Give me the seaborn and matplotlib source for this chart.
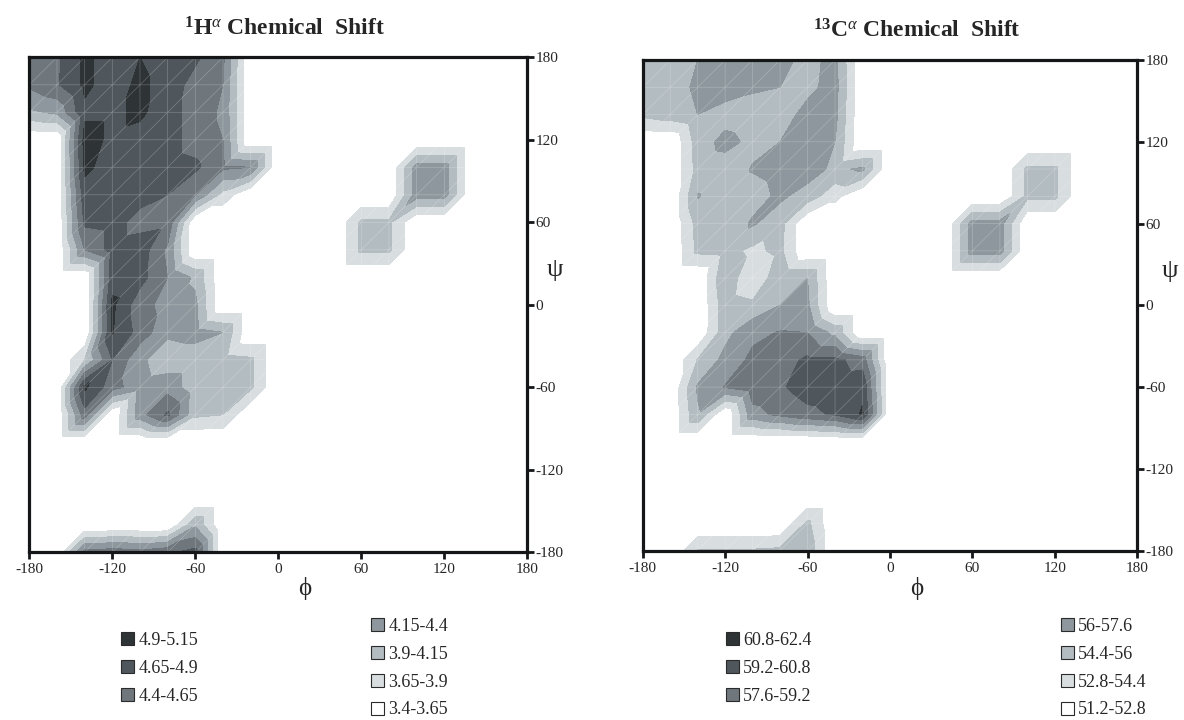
"""Mean H-alpha and C-alpha chemical shift over the phi/psi plane.

Two filled-contour maps on a 20 degree grid, drawn side by side with a
two-column band legend under each. Writes out.png (1184x720).
"""

import matplotlib.pyplot as plt
import matplotlib.tri as mtri
import numpy as np
import seaborn as sns
from matplotlib.patches import Patch

sns.set_theme(style="white")
plt.rcParams["font.family"] = ["Liberation Serif", "DejaVu Serif"]
plt.rcParams["mathtext.fontset"] = "custom"
plt.rcParams["mathtext.rm"] = "Liberation Serif"
plt.rcParams["mathtext.it"] = "Liberation Serif:italic"
plt.rcParams["mathtext.bf"] = "Liberation Serif:bold"
plt.rcParams["axes.unicode_minus"] = False

W, H = 1184, 720

# grid nodes (degrees)
PHI = [-180, -160, -140, -120, -100, -80, -60, -40, -20, 0,
       20, 40, 60, 80, 100, 120, 140, 160, 180]
PSI = [180, 160, 140, 120, 100, 80, 60, 40, 20, 0,
       -20, -40, -60, -80, -100, -120, -140, -160, -180]

# 1H-alpha shift (ppm), rows = PSI (top to bottom), cols = PHI
HA_SHIFT = [
    [4.45, 4.60, 4.95, 4.80, 4.90, 4.80, 4.70, 4.45, 3.4, 3.4, 3.4, 3.4, 3.4, 3.4, 3.4, 3.4, 3.4, 3.4, 3.4],
    [4.45, 4.62, 4.95, 4.80, 4.95, 4.80, 4.55, 4.40, 3.4, 3.4, 3.4, 3.4, 3.4, 3.4, 3.4, 3.4, 3.4, 3.4, 3.4],
    [4.10, 4.20, 4.85, 4.85, 4.95, 4.75, 4.55, 4.35, 3.4, 3.4, 3.4, 3.4, 3.4, 3.4, 3.4, 3.4, 3.4, 3.4, 3.4],
    [3.4, 3.4, 5.00, 4.85, 4.80, 4.75, 4.55, 4.40, 3.4, 3.4, 3.4, 3.4, 3.4, 3.4, 3.4, 3.4, 3.4, 3.4, 3.4],
    [3.4, 3.4, 4.95, 4.80, 4.80, 4.75, 4.70, 4.45, 4.40, 3.4, 3.4, 3.4, 3.4, 3.4, 4.27, 4.27, 3.4, 3.4, 3.4],
    [3.4, 3.4, 4.80, 4.80, 4.75, 4.65, 4.40, 3.80, 3.4, 3.4, 3.4, 3.4, 3.4, 3.4, 4.27, 4.27, 3.4, 3.4, 3.4],
    [3.4, 3.4, 4.70, 4.75, 4.55, 4.60, 3.4, 3.4, 3.4, 3.4, 3.4, 3.4, 3.95, 3.95, 3.4, 3.4, 3.4, 3.4, 3.4],
    [3.4, 3.4, 4.40, 4.75, 4.80, 4.35, 3.4, 3.4, 3.4, 3.4, 3.4, 3.4, 3.95, 3.95, 3.4, 3.4, 3.4, 3.4, 3.4],
    [3.4, 3.4, 3.4, 4.80, 4.75, 4.40, 4.10, 3.4, 3.4, 3.4, 3.4, 3.4, 3.4, 3.4, 3.4, 3.4, 3.4, 3.4, 3.4],
    [3.4, 3.4, 3.4, 4.95, 4.50, 4.30, 4.20, 3.4, 3.4, 3.4, 3.4, 3.4, 3.4, 3.4, 3.4, 3.4, 3.4, 3.4, 3.4],
    [3.4, 3.4, 3.4, 4.92, 4.55, 4.20, 4.25, 4.15, 3.4, 3.4, 3.4, 3.4, 3.4, 3.4, 3.4, 3.4, 3.4, 3.4, 3.4],
    [3.4, 3.4, 3.90, 4.65, 4.20, 4.00, 4.00, 4.00, 3.95, 3.4, 3.4, 3.4, 3.4, 3.4, 3.4, 3.4, 3.4, 3.4, 3.4],
    [3.4, 3.4, 4.95, 4.50, 4.25, 4.30, 4.00, 4.00, 3.95, 3.4, 3.4, 3.4, 3.4, 3.4, 3.4, 3.4, 3.4, 3.4, 3.4],
    [3.4, 3.4, 4.55, 3.4, 4.30, 4.70, 3.95, 3.90, 3.4, 3.4, 3.4, 3.4, 3.4, 3.4, 3.4, 3.4, 3.4, 3.4, 3.4],
    [3.4, 3.4, 3.4, 3.4, 3.4, 3.4, 3.4, 3.4, 3.4, 3.4, 3.4, 3.4, 3.4, 3.4, 3.4, 3.4, 3.4, 3.4, 3.4],
    [3.4, 3.4, 3.4, 3.4, 3.4, 3.4, 3.4, 3.4, 3.4, 3.4, 3.4, 3.4, 3.4, 3.4, 3.4, 3.4, 3.4, 3.4, 3.4],
    [3.4, 3.4, 3.4, 3.4, 3.4, 3.4, 3.4, 3.4, 3.4, 3.4, 3.4, 3.4, 3.4, 3.4, 3.4, 3.4, 3.4, 3.4, 3.4],
    [3.4, 3.4, 3.4, 3.4, 3.4, 3.4, 4.10, 3.4, 3.4, 3.4, 3.4, 3.4, 3.4, 3.4, 3.4, 3.4, 3.4, 3.4, 3.4],
    [3.4, 3.4, 4.50, 4.55, 4.50, 4.60, 4.75, 3.4, 3.4, 3.4, 3.4, 3.4, 3.4, 3.4, 3.4, 3.4, 3.4, 3.4, 3.4],
]

# 13C-alpha shift (ppm), same layout
CA_SHIFT = [
    [55.2, 55.5, 56.0, 57.0, 56.8, 56.5, 55.5, 56.5, 51.2, 51.2, 51.2, 51.2, 51.2, 51.2, 51.2, 51.2, 51.2, 51.2, 51.2],
    [55.3, 55.5, 56.2, 56.8, 56.3, 56.0, 55.6, 56.6, 51.2, 51.2, 51.2, 51.2, 51.2, 51.2, 51.2, 51.2, 51.2, 51.2, 51.2],
    [54.8, 55.3, 56.0, 55.3, 55.0, 55.3, 56.5, 56.5, 51.2, 51.2, 51.2, 51.2, 51.2, 51.2, 51.2, 51.2, 51.2, 51.2, 51.2],
    [51.2, 51.2, 55.2, 56.5, 55.6, 56.0, 56.8, 56.0, 51.2, 51.2, 51.2, 51.2, 51.2, 51.2, 51.2, 51.2, 51.2, 51.2, 51.2],
    [51.2, 51.2, 55.0, 55.2, 56.1, 56.5, 56.8, 55.6, 56.3, 51.2, 51.2, 51.2, 51.2, 51.2, 54.8, 54.8, 51.2, 51.2, 51.2],
    [51.2, 51.2, 56.1, 55.2, 55.4, 56.3, 55.3, 53.3, 51.2, 51.2, 51.2, 51.2, 51.2, 51.2, 54.8, 54.8, 51.2, 51.2, 51.2],
    [51.2, 51.2, 55.0, 55.0, 56.2, 55.0, 51.2, 51.2, 51.2, 51.2, 51.2, 51.2, 56.7, 56.7, 51.2, 51.2, 51.2, 51.2, 51.2],
    [51.2, 51.2, 54.8, 55.0, 54.0, 54.8, 51.2, 51.2, 51.2, 51.2, 51.2, 51.2, 56.7, 56.7, 51.2, 51.2, 51.2, 51.2, 51.2],
    [51.2, 51.2, 51.2, 55.8, 52.7, 55.8, 56.0, 51.2, 51.2, 51.2, 51.2, 51.2, 51.2, 51.2, 51.2, 51.2, 51.2, 51.2, 51.2],
    [51.2, 51.2, 51.2, 55.4, 54.8, 56.0, 56.3, 51.2, 51.2, 51.2, 51.2, 51.2, 51.2, 51.2, 51.2, 51.2, 51.2, 51.2, 51.2],
    [51.2, 51.2, 51.2, 55.5, 57.2, 57.7, 57.6, 55.5, 51.2, 51.2, 51.2, 51.2, 51.2, 51.2, 51.2, 51.2, 51.2, 51.2, 51.2],
    [51.2, 51.2, 54.5, 56.5, 58.0, 58.5, 59.5, 59.6, 58.5, 51.2, 51.2, 51.2, 51.2, 51.2, 51.2, 51.2, 51.2, 51.2, 51.2],
    [51.2, 51.2, 56.2, 57.7, 58.6, 59.0, 59.9, 60.1, 60.4, 51.2, 51.2, 51.2, 51.2, 51.2, 51.2, 51.2, 51.2, 51.2, 51.2],
    [51.2, 51.2, 55.8, 51.2, 57.0, 58.0, 58.8, 59.4, 61.0, 51.2, 51.2, 51.2, 51.2, 51.2, 51.2, 51.2, 51.2, 51.2, 51.2],
    [51.2, 51.2, 51.2, 51.2, 51.2, 51.2, 51.2, 51.2, 51.2, 51.2, 51.2, 51.2, 51.2, 51.2, 51.2, 51.2, 51.2, 51.2, 51.2],
    [51.2, 51.2, 51.2, 51.2, 51.2, 51.2, 51.2, 51.2, 51.2, 51.2, 51.2, 51.2, 51.2, 51.2, 51.2, 51.2, 51.2, 51.2, 51.2],
    [51.2, 51.2, 51.2, 51.2, 51.2, 51.2, 51.2, 51.2, 51.2, 51.2, 51.2, 51.2, 51.2, 51.2, 51.2, 51.2, 51.2, 51.2, 51.2],
    [51.2, 51.2, 51.2, 51.2, 51.2, 51.2, 54.8, 51.2, 51.2, 51.2, 51.2, 51.2, 51.2, 51.2, 51.2, 51.2, 51.2, 51.2, 51.2],
    [51.2, 51.2, 54.5, 54.6, 54.6, 54.8, 55.5, 51.2, 51.2, 51.2, 51.2, 51.2, 51.2, 51.2, 51.2, 51.2, 51.2, 51.2, 51.2],
]

HA_LEVELS = [3.4, 3.65, 3.9, 4.15, 4.4, 4.65, 4.9, 5.15]
CA_LEVELS = [51.2, 52.8, 54.4, 56.0, 57.6, 59.2, 60.8, 62.4]

TICKS = [-180, -120, -60, 0, 60, 120, 180]

# lowest band first
SHADES = ["#ffffff", "#d8dde0", "#b3bcc1", "#8d979d", "#6f777d", "#50575c", "#2e3336"]
INK = "#141617"


def grid_triangulation() -> mtri.Triangulation:
    """Split each grid cell along its lower-left/upper-right diagonal."""
    xx, yy = np.meshgrid(PHI, PSI)
    n = len(PHI)
    tris = []
    for i in range(len(PSI) - 1):
        for j in range(n - 1):
            ul, ur = i * n + j, i * n + j + 1
            ll, lr = (i + 1) * n + j, (i + 1) * n + j + 1
            tris.append([ll, lr, ur])
            tris.append([ll, ur, ul])
    return mtri.Triangulation(xx.ravel(), yy.ravel(), tris)


def draw_map(ax, tri, values, levels, xlabel_pos, ylabel_pos) -> None:
    z = np.asarray(values, dtype=float).ravel()
    ax.tricontourf(tri, z, levels=levels, colors=SHADES)
    ax.triplot(tri, color="white", lw=0.5, alpha=0.25)

    ax.set_xlim(-180, 180)
    ax.set_ylim(-180, 180)
    ax.set_xticks(TICKS)
    ax.set_yticks(TICKS)
    ax.yaxis.tick_right()
    ax.tick_params(axis="x", bottom=True, top=False, direction="out",
                   length=5, width=2, color=INK, labelsize=11, pad=3)
    ax.tick_params(axis="y", right=True, left=False, labelright=True,
                   labelleft=False, direction="out", length=5, width=2,
                   color=INK, labelsize=11, pad=1)
    for side in ax.spines.values():
        side.set_visible(True)
        side.set_color(INK)
        side.set_linewidth(2.3)
        side.set_zorder(5)

    ax.set_xlabel("ϕ", fontsize=18)
    ax.xaxis.set_label_coords(*xlabel_pos)
    ax.yaxis.set_label_position("right")
    ax.set_ylabel("ψ", fontsize=19, rotation=0, va="center", ha="center")
    ax.yaxis.set_label_coords(*ylabel_pos)


def add_legends(fig, levels, col1_xy, col2_xy) -> None:
    labels = [f"{lo:g}-{hi:g}" for lo, hi in zip(levels[:-1], levels[1:])]
    handles = [Patch(facecolor=c, edgecolor="#2a2a2a", lw=0.8) for c in SHADES]
    order = list(range(len(labels) - 1, -1, -1))  # darkest band first
    for idx, (x, y) in ((order[:3], col1_xy), (order[3:], col2_xy)):
        fig.legend(
            [handles[k] for k in idx],
            [labels[k] for k in idx],
            loc="upper left",
            bbox_to_anchor=(x / W, 1 - y / H),
            frameon=False,
            fontsize=13,
            handlelength=0.7,
            handleheight=0.7,
            handletextpad=0.25,
            labelspacing=0.6,
            borderpad=0,
            borderaxespad=0,
        )


def main() -> None:
    fig = plt.figure(figsize=(W / 100, H / 100), dpi=100)
    tri = grid_triangulation()

    ax_h = fig.add_axes([29.3 / W, 1 - 552.3 / H, 498 / W, 495 / H])
    draw_map(ax_h, tri, HA_SHIFT, HA_LEVELS, (0.554, -0.05), (1.056, 0.57))
    fig.text(284 / W, 1 - 35 / H, r"$^{\mathbf{1}}\mathbf{H}^{\alpha}$ Chemical  Shift",
             ha="center", va="baseline", fontsize=17, fontweight="bold")
    add_legends(fig, HA_LEVELS, (121, 632), (371, 618))

    ax_c = fig.add_axes([642.7 / W, 1 - 550.7 / H, 494.6 / W, 490.7 / H])
    draw_map(ax_c, tri, CA_SHIFT, CA_LEVELS, (0.555, -0.054), (1.066, 0.57))
    fig.text(917 / W, 1 - 38 / H, r"$^{\mathbf{13}}\mathbf{C}^{\alpha}$ Chemical  Shift",
             ha="center", va="baseline", fontsize=17, fontweight="bold")
    add_legends(fig, CA_LEVELS, (726, 632), (1061, 618))

    fig.savefig("out.png", dpi=100)
    plt.close(fig)


if __name__ == "__main__":
    main()
